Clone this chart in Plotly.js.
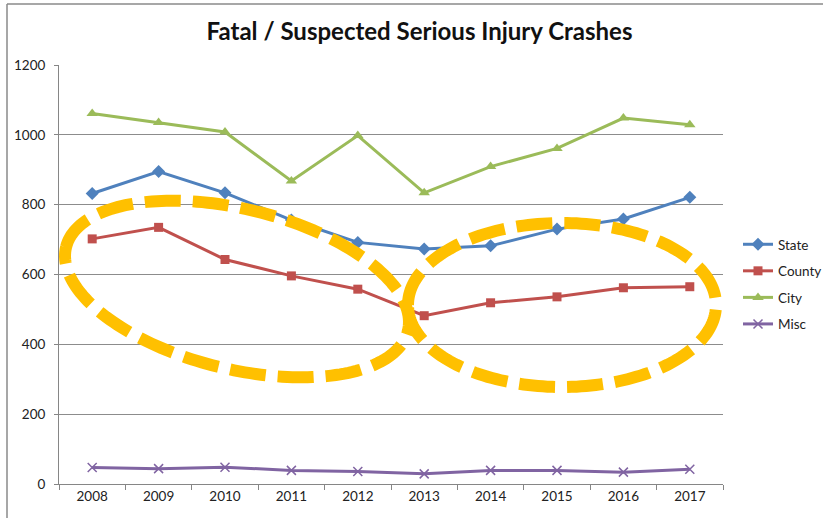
<!DOCTYPE html>
<html><head><meta charset="utf-8">
<script src="https://cdn.plot.ly/plotly-3.0.1.min.js"></script>
<style>html,body{margin:0;padding:0;background:#fff}</style>
</head><body><div id="chart" style="width:823px;height:518px"></div>
<script>
const years = ['2008','2009','2010','2011','2012','2013','2014','2015','2016','2017'];
const state = [832,895,834,756,692,673,682,730,759,821];
const county = [702,735,643,596,558,482,519,536,562,565];
const city = [1061,1035,1008,868,998,834,909,961,1048,1029];
const misc = [47,44,48,39,36,29,39,39,34,42];
const yTicks = [0,200,400,600,800,1000,1200];

// plot area in pixels
const L = 59, T = 65, R = 723, B = 484;
const PW = R - L, PH = B - T;
function ellipsePath(cx, cy, a, b, deg) {
  const th = deg * Math.PI / 180;
  let d = '';
  const n = 200;
  for (let i = 0; i <= n; i++) {
    const t = Math.PI + i / n * 2 * Math.PI;
    const x = cx + a * Math.cos(t) * Math.cos(th) - b * Math.sin(t) * Math.sin(th);
    const y = cy + a * Math.cos(t) * Math.sin(th) + b * Math.sin(t) * Math.cos(th);
    const px = (x - L) / PW, py = (B - y) / PH;
    d += (i ? 'L' : 'M') + px.toFixed(5) + ',' + py.toFixed(5);
  }
  return d;
}

const font = 'Lato, "Open Sans", sans-serif';
function tr(name, y, color, symbol, size, extra) {
  return Object.assign({
    type: 'scatter', mode: 'lines+markers', name: name, x: years, y: y,
    legendgroup: name,
    line: {color: color, width: 3},
    marker: {symbol: symbol, size: size, color: color, line: {width: 0}}
  }, extra || {});
}
const data = [
  tr('State', state, '#4F81BD', 'diamond', 10),
  tr('County', county, '#C0504D', 'square', 9),
  tr('City', city, '#9BBB59', 'triangle-up', 10),
  tr('Misc', misc, '#8064A2', 'x-thin', 9, {marker: {symbol: 'x-thin', size: 9, color: '#8064A2', line: {width: 1.5, color: '#8064A2'}}})
];

const layout = {
  width: 823, height: 518,
  margin: {l: L, r: 823 - R, t: T, b: 518 - B, pad: 0, autoexpand: false},
  paper_bgcolor: '#fff', plot_bgcolor: '#fff',
  font: {family: font, size: 13.5, color: '#222'},
  title: {text: '<b>Fatal / Suspected Serious Injury Crashes</b>', font: {family: font, size: 24, color: '#111'},
          x: 419.5 / 823, xref: 'container', xanchor: 'center', y: 1 - 32 / 518, yref: 'container', yanchor: 'middle'},
  showlegend: true,
  legend: {x: (738 - L) / PW, xanchor: 'left', y: (B - 229) / PH, yanchor: 'top',
           font: {family: font, size: 13.5, color: '#222'}, tracegroupgap: 6, bgcolor: 'rgba(0,0,0,0)',
           itemwidth: 30},
  xaxis: {type: 'category', range: [-0.5, 9.5], tickson: 'boundaries', ticks: 'outside', ticklen: 5,
          tickcolor: '#868686', showline: true, linecolor: '#868686', linewidth: 1, showgrid: false,
          zeroline: false, tickfont: {family: font, size: 13.5, color: '#222'}, fixedrange: true},
  yaxis: {range: [0, 1200], tickvals: yTicks, ticktext: yTicks.map(String), ticks: 'outside', ticklen: 4,
          tickcolor: '#868686', showline: true, linecolor: '#868686', linewidth: 1,
          showgrid: true, gridcolor: '#8c8c8c', gridwidth: 1, zeroline: false,
          tickfont: {family: font, size: 13.5, color: '#222'}, ticklabelstandoff: 6, fixedrange: true},
  shapes: [
    {type: 'path', xref: 'paper', yref: 'paper', layer: 'above', path: ellipsePath(237, 289, 176, 80, 13.8),
     line: {color: '#FFC000', width: 12, dash: '36px,12px'}},
    {type: 'path', xref: 'paper', yref: 'paper', layer: 'above', path: ellipsePath(562, 305, 154, 82, 0),
     line: {color: '#FFC000', width: 12, dash: '36px,12px'}},
    {type: 'line', xref: 'paper', yref: 'paper', x0: (7 - L) / PW, x1: (7 - L) / PW, y0: (B - 4) / PH, y1: (B - 530) / PH,
     line: {color: '#8a8a8a', width: 1.5}},
    {type: 'line', xref: 'paper', yref: 'paper', x0: (7 - L) / PW, x1: (830 - L) / PW, y0: (B - 4) / PH, y1: (B - 4) / PH,
     line: {color: '#8a8a8a', width: 1.5}}
  ]
};
Plotly.newPlot('chart', data, layout, {displayModeBar: false, staticPlot: true});
</script>
</body></html>
